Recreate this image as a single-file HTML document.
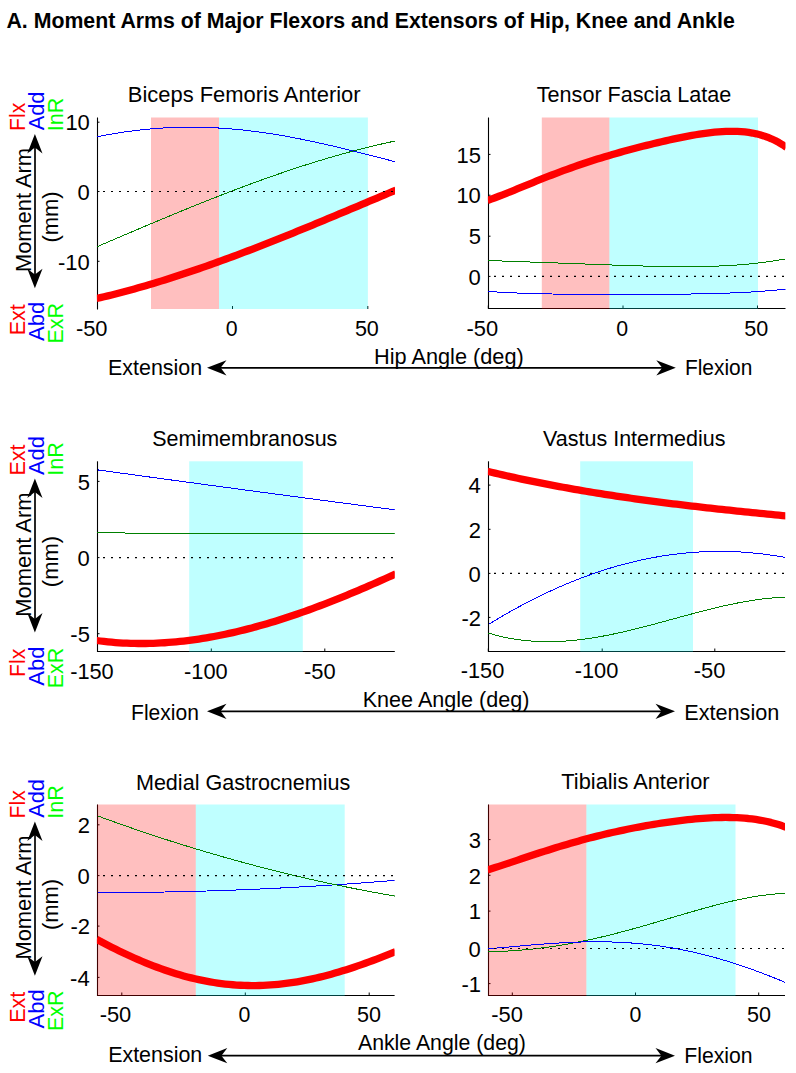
<!DOCTYPE html>
<html><head><meta charset="utf-8"><style>
html,body{margin:0;padding:0;background:#fff;}
body{width:796px;height:1073px;overflow:hidden;}
svg{display:block;}
text{font-family:"Liberation Sans", sans-serif;}
</style></head><body>
<svg width="796" height="1073" viewBox="0 0 796 1073">
<rect x="0" y="0" width="796" height="1073" fill="#fff"/>
<defs><clipPath id="cp1"><rect x="96.90" y="117.50" width="298.10" height="191.50"/></clipPath><clipPath id="cp2"><rect x="487.90" y="117.50" width="297.60" height="191.00"/></clipPath><clipPath id="cp3"><rect x="96.90" y="461.30" width="297.90" height="190.20"/></clipPath><clipPath id="cp4"><rect x="487.90" y="461.30" width="297.40" height="190.20"/></clipPath><clipPath id="cp5"><rect x="96.90" y="804.50" width="297.70" height="191.00"/></clipPath><clipPath id="cp6"><rect x="487.90" y="804.50" width="297.10" height="191.00"/></clipPath></defs>
<line x1="97.50" y1="117.50" x2="97.50" y2="309.50" stroke="#000" stroke-width="1.1"/>
<line x1="97.50" y1="122.20" x2="99.50" y2="122.20" stroke="#000" stroke-width="1"/>
<line x1="97.50" y1="191.50" x2="99.50" y2="191.50" stroke="#000" stroke-width="1"/>
<line x1="97.50" y1="261.30" x2="99.50" y2="261.30" stroke="#000" stroke-width="1"/>
<line x1="97.50" y1="309.00" x2="97.50" y2="306.00" stroke="#000" stroke-width="1"/>
<line x1="232.50" y1="309.00" x2="232.50" y2="306.00" stroke="#000" stroke-width="1"/>
<line x1="367.80" y1="309.00" x2="367.80" y2="306.00" stroke="#000" stroke-width="1"/>
<rect x="151.00" y="117.50" width="68.00" height="191.50" fill="#ff0000" fill-opacity="0.25"/>
<rect x="219.00" y="117.50" width="148.90" height="191.50" fill="#00ffff" fill-opacity="0.25"/>
<g clip-path="url(#cp1)" fill="none" stroke-linejoin="round">
<polyline points="97.50,136.71 101.27,135.96 105.03,135.24 108.80,134.55 112.56,133.89 116.33,133.26 120.09,132.66 123.86,132.09 127.63,131.56 131.39,131.05 135.16,130.57 138.92,130.13 142.69,129.72 146.46,129.33 150.22,128.98 153.99,128.67 157.75,128.38 161.52,128.12 165.28,127.90 169.05,127.70 172.82,127.54 176.58,127.41 180.35,127.31 184.11,127.24 187.88,127.20 191.65,127.19 195.41,127.22 199.18,127.27 202.94,127.35 206.71,127.47 210.47,127.61 214.24,127.78 218.01,127.98 221.77,128.21 225.54,128.47 229.30,128.76 233.07,129.08 236.84,129.42 240.60,129.79 244.37,130.19 248.13,130.61 251.90,131.06 255.66,131.54 259.43,132.04 263.20,132.57 266.96,133.12 270.73,133.69 274.49,134.29 278.26,134.91 282.03,135.55 285.79,136.22 289.56,136.90 293.32,137.61 297.09,138.33 300.85,139.08 304.62,139.84 308.39,140.62 312.15,141.42 315.92,142.23 319.68,143.06 323.45,143.90 327.22,144.76 330.98,145.63 334.75,146.52 338.51,147.42 342.28,148.32 346.04,149.24 349.81,150.17 353.58,151.10 357.34,152.04 361.11,152.99 364.87,153.95 368.64,154.91 372.41,155.87 376.17,156.84 379.94,157.80 383.70,158.77 387.47,159.74 391.23,160.71 395.00,161.67" stroke="#0000ff" stroke-width="1.0" shape-rendering="crispEdges"/>
<polyline points="97.50,246.53 101.27,244.91 105.03,243.30 108.80,241.68 112.56,240.07 116.33,238.45 120.09,236.84 123.86,235.23 127.63,233.63 131.39,232.02 135.16,230.42 138.92,228.82 142.69,227.22 146.46,225.63 150.22,224.04 153.99,222.46 157.75,220.88 161.52,219.30 165.28,217.73 169.05,216.17 172.82,214.61 176.58,213.05 180.35,211.50 184.11,209.96 187.88,208.42 191.65,206.89 195.41,205.37 199.18,203.85 202.94,202.35 206.71,200.84 210.47,199.35 214.24,197.87 218.01,196.39 221.77,194.92 225.54,193.46 229.30,192.01 233.07,190.57 236.84,189.14 240.60,187.71 244.37,186.30 248.13,184.90 251.90,183.51 255.66,182.13 259.43,180.76 263.20,179.41 266.96,178.06 270.73,176.73 274.49,175.40 278.26,174.10 282.03,172.80 285.79,171.52 289.56,170.25 293.32,168.99 297.09,167.74 300.85,166.52 304.62,165.30 308.39,164.10 312.15,162.91 315.92,161.74 319.68,160.59 323.45,159.45 327.22,158.32 330.98,157.21 334.75,156.12 338.51,155.04 342.28,153.98 346.04,152.94 349.81,151.92 353.58,150.91 357.34,149.92 361.11,148.95 364.87,147.99 368.64,147.06 372.41,146.14 376.17,145.25 379.94,144.37 383.70,143.51 387.47,142.67 391.23,141.85 395.00,141.05" stroke="#008000" stroke-width="1.0" shape-rendering="crispEdges"/>
<polyline points="96.50,298.55 100.29,297.67 104.08,296.77 107.87,295.85 111.66,294.92 115.46,293.96 119.25,292.99 123.04,291.99 126.83,290.98 130.62,289.96 134.41,288.91 138.20,287.85 141.99,286.77 145.78,285.67 149.58,284.56 153.37,283.43 157.16,282.28 160.95,281.12 164.74,279.95 168.53,278.75 172.32,277.55 176.11,276.33 179.91,275.09 183.70,273.84 187.49,272.58 191.28,271.31 195.07,270.02 198.86,268.72 202.65,267.40 206.44,266.07 210.23,264.74 214.03,263.39 217.82,262.02 221.61,260.65 225.40,259.27 229.19,257.87 232.98,256.47 236.77,255.05 240.56,253.62 244.35,252.19 248.15,250.75 251.94,249.29 255.73,247.83 259.52,246.36 263.31,244.88 267.10,243.39 270.89,241.90 274.68,240.40 278.47,238.89 282.27,237.37 286.06,235.85 289.85,234.32 293.64,232.79 297.43,231.24 301.22,229.70 305.01,228.15 308.80,226.59 312.59,225.03 316.39,223.46 320.18,221.89 323.97,220.32 327.76,218.74 331.55,217.16 335.34,215.58 339.13,213.99 342.92,212.40 346.72,210.81 350.51,209.22 354.30,207.63 358.09,206.03 361.88,204.43 365.67,202.83 369.46,201.24 373.25,199.64 377.04,198.04 380.84,196.44 384.63,194.84 388.42,193.24 392.21,191.65 396.00,190.05" stroke="#ff0000" stroke-width="7.3" stroke-linecap="butt"/>
</g>
<line x1="97.50" y1="191.50" x2="395.00" y2="191.50" stroke="#000" stroke-width="1.2" stroke-dasharray="2 6" stroke-dashoffset="-5.5"/>
<line x1="488.50" y1="117.50" x2="488.50" y2="309.00" stroke="#000" stroke-width="1.1"/>
<line x1="488.50" y1="308.50" x2="785.50" y2="308.50" stroke="#000" stroke-width="1.1"/>
<line x1="488.50" y1="154.40" x2="490.50" y2="154.40" stroke="#000" stroke-width="1"/>
<line x1="488.50" y1="195.20" x2="490.50" y2="195.20" stroke="#000" stroke-width="1"/>
<line x1="488.50" y1="236.20" x2="490.50" y2="236.20" stroke="#000" stroke-width="1"/>
<line x1="488.50" y1="276.40" x2="490.50" y2="276.40" stroke="#000" stroke-width="1"/>
<line x1="488.30" y1="308.50" x2="488.30" y2="305.50" stroke="#000" stroke-width="1"/>
<line x1="623.00" y1="308.50" x2="623.00" y2="305.50" stroke="#000" stroke-width="1"/>
<line x1="757.50" y1="308.50" x2="757.50" y2="305.50" stroke="#000" stroke-width="1"/>
<rect x="541.80" y="117.50" width="67.60" height="191.50" fill="#ff0000" fill-opacity="0.25"/>
<rect x="609.40" y="117.50" width="148.60" height="191.50" fill="#00ffff" fill-opacity="0.25"/>
<g clip-path="url(#cp2)" fill="none" stroke-linejoin="round">
<polyline points="488.50,260.51 492.26,260.65 496.02,260.79 499.78,260.92 503.54,261.06 507.30,261.19 511.06,261.33 514.82,261.46 518.58,261.59 522.34,261.72 526.09,261.86 529.85,261.99 533.61,262.12 537.37,262.26 541.13,262.39 544.89,262.53 548.65,262.66 552.41,262.80 556.17,262.94 559.93,263.08 563.69,263.22 567.45,263.36 571.21,263.50 574.97,263.64 578.73,263.78 582.49,263.92 586.25,264.06 590.01,264.20 593.77,264.35 597.53,264.49 601.28,264.63 605.04,264.76 608.80,264.90 612.56,265.04 616.32,265.17 620.08,265.30 623.84,265.43 627.60,265.55 631.36,265.67 635.12,265.79 638.88,265.90 642.64,266.01 646.40,266.11 650.16,266.20 653.92,266.29 657.68,266.37 661.44,266.44 665.20,266.51 668.96,266.56 672.72,266.60 676.47,266.64 680.23,266.66 683.99,266.67 687.75,266.66 691.51,266.64 695.27,266.61 699.03,266.56 702.79,266.50 706.55,266.42 710.31,266.31 714.07,266.19 717.83,266.05 721.59,265.89 725.35,265.71 729.11,265.50 732.87,265.27 736.63,265.02 740.39,264.74 744.15,264.43 747.91,264.09 751.66,263.72 755.42,263.32 759.18,262.89 762.94,262.42 766.70,261.92 770.46,261.39 774.22,260.82 777.98,260.21 781.74,259.56 785.50,258.86" stroke="#008000" stroke-width="1.0" shape-rendering="crispEdges"/>
<polyline points="488.50,291.43 492.26,291.69 496.02,291.94 499.78,292.16 503.54,292.37 507.30,292.57 511.06,292.75 514.82,292.92 518.58,293.07 522.34,293.22 526.09,293.35 529.85,293.47 533.61,293.58 537.37,293.68 541.13,293.77 544.89,293.85 548.65,293.93 552.41,294.00 556.17,294.06 559.93,294.11 563.69,294.16 567.45,294.20 571.21,294.24 574.97,294.28 578.73,294.31 582.49,294.33 586.25,294.36 590.01,294.38 593.77,294.39 597.53,294.41 601.28,294.42 605.04,294.42 608.80,294.43 612.56,294.44 616.32,294.44 620.08,294.44 623.84,294.44 627.60,294.43 631.36,294.43 635.12,294.42 638.88,294.41 642.64,294.40 646.40,294.39 650.16,294.37 653.92,294.35 657.68,294.33 661.44,294.31 665.20,294.28 668.96,294.25 672.72,294.22 676.47,294.18 680.23,294.14 683.99,294.10 687.75,294.05 691.51,293.99 695.27,293.93 699.03,293.86 702.79,293.79 706.55,293.71 710.31,293.62 714.07,293.52 717.83,293.41 721.59,293.30 725.35,293.17 729.11,293.04 732.87,292.89 736.63,292.73 740.39,292.56 744.15,292.37 747.91,292.17 751.66,291.95 755.42,291.72 759.18,291.47 762.94,291.20 766.70,290.92 770.46,290.61 774.22,290.28 777.98,289.93 781.74,289.56 785.50,289.17" stroke="#0000ff" stroke-width="1.0" shape-rendering="crispEdges"/>
<polyline points="487.50,200.45 491.28,199.11 495.07,197.71 498.85,196.28 502.64,194.81 506.42,193.31 510.21,191.79 513.99,190.26 517.78,188.71 521.56,187.16 525.35,185.61 529.13,184.06 532.92,182.52 536.70,180.98 540.49,179.46 544.27,177.95 548.06,176.46 551.84,174.99 555.63,173.54 559.41,172.11 563.20,170.70 566.98,169.32 570.77,167.96 574.55,166.62 578.34,165.31 582.12,164.02 585.91,162.76 589.69,161.52 593.47,160.30 597.26,159.10 601.04,157.93 604.83,156.78 608.61,155.65 612.40,154.54 616.18,153.45 619.97,152.38 623.75,151.32 627.54,150.29 631.32,149.27 635.11,148.27 638.89,147.28 642.68,146.31 646.46,145.36 650.25,144.42 654.03,143.50 657.82,142.59 661.60,141.70 665.39,140.84 669.17,139.99 672.96,139.16 676.74,138.35 680.53,137.57 684.31,136.82 688.09,136.10 691.88,135.41 695.66,134.75 699.45,134.14 703.23,133.57 707.02,133.05 710.80,132.59 714.59,132.18 718.37,131.84 722.16,131.58 725.94,131.39 729.73,131.29 733.51,131.29 737.30,131.39 741.08,131.61 744.87,131.95 748.65,132.42 752.44,133.04 756.22,133.82 760.01,134.76 763.79,135.89 767.58,137.22 771.36,138.77 775.15,140.54 778.93,142.55 782.72,144.83 786.50,147.38" stroke="#ff0000" stroke-width="7.3" stroke-linecap="butt"/>
</g>
<line x1="488.50" y1="276.40" x2="785.50" y2="276.40" stroke="#000" stroke-width="1.2" stroke-dasharray="2 6" stroke-dashoffset="-5.5"/>
<line x1="97.50" y1="461.30" x2="97.50" y2="652.00" stroke="#000" stroke-width="1.1"/>
<line x1="97.50" y1="651.50" x2="394.80" y2="651.50" stroke="#000" stroke-width="1.1"/>
<line x1="97.50" y1="481.40" x2="99.50" y2="481.40" stroke="#000" stroke-width="1"/>
<line x1="97.50" y1="557.60" x2="99.50" y2="557.60" stroke="#000" stroke-width="1"/>
<line x1="97.50" y1="633.70" x2="99.50" y2="633.70" stroke="#000" stroke-width="1"/>
<line x1="97.50" y1="651.50" x2="97.50" y2="648.50" stroke="#000" stroke-width="1"/>
<line x1="211.30" y1="651.50" x2="211.30" y2="648.50" stroke="#000" stroke-width="1"/>
<line x1="324.80" y1="651.50" x2="324.80" y2="648.50" stroke="#000" stroke-width="1"/>
<rect x="189.20" y="461.30" width="113.60" height="190.70" fill="#00ffff" fill-opacity="0.25"/>
<g clip-path="url(#cp3)" fill="none" stroke-linejoin="round">
<polyline points="97.50,469.87 101.26,470.39 105.03,470.91 108.79,471.43 112.55,471.94 116.32,472.46 120.08,472.98 123.84,473.50 127.61,474.01 131.37,474.53 135.13,475.04 138.90,475.56 142.66,476.08 146.42,476.59 150.19,477.10 153.95,477.62 157.71,478.13 161.48,478.65 165.24,479.16 169.00,479.67 172.77,480.18 176.53,480.70 180.29,481.21 184.06,481.72 187.82,482.23 191.58,482.74 195.35,483.25 199.11,483.76 202.87,484.27 206.64,484.78 210.40,485.29 214.16,485.80 217.93,486.31 221.69,486.82 225.45,487.32 229.22,487.83 232.98,488.34 236.74,488.84 240.51,489.35 244.27,489.86 248.03,490.36 251.79,490.87 255.56,491.37 259.32,491.88 263.08,492.38 266.85,492.89 270.61,493.39 274.37,493.89 278.14,494.40 281.90,494.90 285.66,495.40 289.43,495.90 293.19,496.40 296.95,496.90 300.72,497.41 304.48,497.91 308.24,498.41 312.01,498.91 315.77,499.41 319.53,499.90 323.30,500.40 327.06,500.90 330.82,501.40 334.59,501.90 338.35,502.40 342.11,502.89 345.88,503.39 349.64,503.89 353.40,504.38 357.17,504.88 360.93,505.37 364.69,505.87 368.46,506.36 372.22,506.86 375.98,507.35 379.75,507.84 383.51,508.34 387.27,508.83 391.04,509.32 394.80,509.82" stroke="#0000ff" stroke-width="1.0" shape-rendering="crispEdges"/>
<polyline points="97.00,532.50 124.50,532.50 126.00,533.50 395.00,533.50" stroke="#008000" stroke-width="1.0" shape-rendering="crispEdges"/>
<polyline points="96.50,640.50 100.29,641.00 104.08,641.45 107.87,641.85 111.65,642.21 115.44,642.53 119.23,642.80 123.02,643.02 126.81,643.20 130.60,643.34 134.39,643.44 138.17,643.50 141.96,643.51 145.75,643.48 149.54,643.41 153.33,643.31 157.12,643.16 160.91,642.97 164.69,642.75 168.48,642.48 172.27,642.18 176.06,641.84 179.85,641.46 183.64,641.05 187.43,640.60 191.22,640.12 195.00,639.60 198.79,639.04 202.58,638.46 206.37,637.83 210.16,637.18 213.95,636.49 217.74,635.77 221.52,635.02 225.31,634.23 229.10,633.42 232.89,632.57 236.68,631.70 240.47,630.79 244.26,629.86 248.04,628.90 251.83,627.91 255.62,626.89 259.41,625.84 263.20,624.77 266.99,623.67 270.78,622.54 274.56,621.39 278.35,620.21 282.14,619.01 285.93,617.79 289.72,616.54 293.51,615.27 297.30,613.97 301.08,612.66 304.87,611.32 308.66,609.96 312.45,608.58 316.24,607.17 320.03,605.75 323.82,604.31 327.61,602.85 331.39,601.37 335.18,599.88 338.97,598.36 342.76,596.83 346.55,595.28 350.34,593.71 354.13,592.13 357.91,590.54 361.70,588.92 365.49,587.30 369.28,585.66 373.07,584.00 376.86,582.34 380.65,580.66 384.43,578.97 388.22,577.26 392.01,575.55 395.80,573.82" stroke="#ff0000" stroke-width="7.3" stroke-linecap="butt"/>
</g>
<line x1="97.50" y1="557.60" x2="394.80" y2="557.60" stroke="#000" stroke-width="1.2" stroke-dasharray="2 6" stroke-dashoffset="-5.5"/>
<line x1="488.50" y1="461.30" x2="488.50" y2="652.00" stroke="#000" stroke-width="1.1"/>
<line x1="488.50" y1="651.50" x2="785.30" y2="651.50" stroke="#000" stroke-width="1.1"/>
<line x1="488.50" y1="485.10" x2="490.50" y2="485.10" stroke="#000" stroke-width="1"/>
<line x1="488.50" y1="529.30" x2="490.50" y2="529.30" stroke="#000" stroke-width="1"/>
<line x1="488.50" y1="573.40" x2="490.50" y2="573.40" stroke="#000" stroke-width="1"/>
<line x1="488.50" y1="617.40" x2="490.50" y2="617.40" stroke="#000" stroke-width="1"/>
<line x1="488.30" y1="651.50" x2="488.30" y2="648.50" stroke="#000" stroke-width="1"/>
<line x1="602.20" y1="651.50" x2="602.20" y2="648.50" stroke="#000" stroke-width="1"/>
<line x1="714.80" y1="651.50" x2="714.80" y2="648.50" stroke="#000" stroke-width="1"/>
<rect x="580.20" y="461.30" width="112.80" height="190.70" fill="#00ffff" fill-opacity="0.25"/>
<g clip-path="url(#cp4)" fill="none" stroke-linejoin="round">
<polyline points="488.50,624.47 492.26,622.17 496.01,619.90 499.77,617.67 503.53,615.47 507.28,613.31 511.04,611.18 514.80,609.09 518.56,607.03 522.31,605.01 526.07,603.03 529.83,601.08 533.58,599.16 537.34,597.28 541.10,595.44 544.85,593.63 548.61,591.86 552.37,590.13 556.13,588.43 559.88,586.77 563.64,585.15 567.40,583.56 571.15,582.01 574.91,580.50 578.67,579.03 582.42,577.59 586.18,576.19 589.94,574.82 593.69,573.50 597.45,572.21 601.21,570.96 604.97,569.75 608.72,568.57 612.48,567.44 616.24,566.34 619.99,565.28 623.75,564.26 627.51,563.28 631.26,562.33 635.02,561.43 638.78,560.56 642.54,559.73 646.29,558.94 650.05,558.19 653.81,557.48 657.56,556.81 661.32,556.17 665.08,555.58 668.83,555.02 672.59,554.51 676.35,554.03 680.11,553.59 683.86,553.19 687.62,552.83 691.38,552.51 695.13,552.24 698.89,552.00 702.65,551.80 706.40,551.63 710.16,551.51 713.92,551.43 717.67,551.39 721.43,551.39 725.19,551.43 728.95,551.51 732.70,551.62 736.46,551.78 740.22,551.98 743.97,552.22 747.73,552.50 751.49,552.82 755.24,553.17 759.00,553.57 762.76,554.01 766.52,554.49 770.27,555.01 774.03,555.57 777.79,556.16 781.54,556.80 785.30,557.48" stroke="#0000ff" stroke-width="1.0" shape-rendering="crispEdges"/>
<polyline points="488.50,633.09 492.26,634.20 496.01,635.23 499.77,636.17 503.53,637.04 507.28,637.82 511.04,638.53 514.80,639.16 518.56,639.71 522.31,640.20 526.07,640.61 529.83,640.95 533.58,641.23 537.34,641.43 541.10,641.58 544.85,641.66 548.61,641.68 552.37,641.64 556.13,641.54 559.88,641.38 563.64,641.17 567.40,640.91 571.15,640.59 574.91,640.23 578.67,639.82 582.42,639.36 586.18,638.85 589.94,638.31 593.69,637.72 597.45,637.10 601.21,636.43 604.97,635.73 608.72,635.00 612.48,634.24 616.24,633.44 619.99,632.62 623.75,631.77 627.51,630.89 631.26,629.99 635.02,629.07 638.78,628.13 642.54,627.18 646.29,626.20 650.05,625.22 653.81,624.22 657.56,623.21 661.32,622.20 665.08,621.18 668.83,620.15 672.59,619.12 676.35,618.10 680.11,617.07 683.86,616.05 687.62,615.03 691.38,614.02 695.13,613.02 698.89,612.03 702.65,611.05 706.40,610.10 710.16,609.15 713.92,608.23 717.67,607.33 721.43,606.45 725.19,605.60 728.95,604.78 732.70,603.98 736.46,603.22 740.22,602.49 743.97,601.80 747.73,601.15 751.49,600.54 755.24,599.97 759.00,599.44 762.76,598.96 766.52,598.53 770.27,598.15 774.03,597.82 777.79,597.55 781.54,597.34 785.30,597.19" stroke="#008000" stroke-width="1.0" shape-rendering="crispEdges"/>
<polyline points="487.50,471.33 491.28,472.23 495.06,473.13 498.85,474.01 502.63,474.88 506.41,475.74 510.19,476.59 513.98,477.42 517.76,478.25 521.54,479.06 525.32,479.86 529.11,480.65 532.89,481.43 536.67,482.19 540.45,482.95 544.23,483.70 548.02,484.43 551.80,485.16 555.58,485.87 559.36,486.58 563.15,487.27 566.93,487.96 570.71,488.63 574.49,489.30 578.27,489.95 582.06,490.60 585.84,491.24 589.62,491.87 593.40,492.49 597.19,493.10 600.97,493.71 604.75,494.30 608.53,494.89 612.32,495.47 616.10,496.04 619.88,496.60 623.66,497.16 627.44,497.71 631.23,498.25 635.01,498.78 638.79,499.31 642.57,499.83 646.36,500.34 650.14,500.85 653.92,501.35 657.70,501.85 661.48,502.33 665.27,502.82 669.05,503.29 672.83,503.76 676.61,504.23 680.40,504.69 684.18,505.14 687.96,505.59 691.74,506.03 695.53,506.47 699.31,506.91 703.09,507.34 706.87,507.77 710.65,508.19 714.44,508.60 718.22,509.02 722.00,509.43 725.78,509.83 729.57,510.24 733.35,510.64 737.13,511.03 740.91,511.42 744.69,511.81 748.48,512.20 752.26,512.59 756.04,512.97 759.82,513.35 763.61,513.72 767.39,514.10 771.17,514.47 774.95,514.85 778.74,515.22 782.52,515.58 786.30,515.95" stroke="#ff0000" stroke-width="7.3" stroke-linecap="butt"/>
</g>
<line x1="488.50" y1="573.40" x2="785.30" y2="573.40" stroke="#000" stroke-width="1.2" stroke-dasharray="2 6" stroke-dashoffset="-5.5"/>
<line x1="97.50" y1="804.50" x2="97.50" y2="996.00" stroke="#000" stroke-width="1.1"/>
<line x1="97.50" y1="995.50" x2="394.60" y2="995.50" stroke="#000" stroke-width="1.1"/>
<line x1="97.50" y1="824.80" x2="99.50" y2="824.80" stroke="#000" stroke-width="1"/>
<line x1="97.50" y1="875.60" x2="99.50" y2="875.60" stroke="#000" stroke-width="1"/>
<line x1="97.50" y1="926.10" x2="99.50" y2="926.10" stroke="#000" stroke-width="1"/>
<line x1="97.50" y1="977.40" x2="99.50" y2="977.40" stroke="#000" stroke-width="1"/>
<line x1="121.80" y1="995.50" x2="121.80" y2="992.50" stroke="#000" stroke-width="1"/>
<line x1="245.30" y1="995.50" x2="245.30" y2="992.50" stroke="#000" stroke-width="1"/>
<line x1="369.20" y1="995.50" x2="369.20" y2="992.50" stroke="#000" stroke-width="1"/>
<rect x="97.00" y="804.50" width="98.80" height="191.50" fill="#ff0000" fill-opacity="0.25"/>
<rect x="195.80" y="804.50" width="148.90" height="191.50" fill="#00ffff" fill-opacity="0.25"/>
<g clip-path="url(#cp5)" fill="none" stroke-linejoin="round">
<polyline points="97.50,892.60 101.26,892.60 105.02,892.59 108.78,892.59 112.54,892.58 116.30,892.56 120.06,892.54 123.83,892.52 127.59,892.49 131.35,892.46 135.11,892.43 138.87,892.39 142.63,892.35 146.39,892.30 150.15,892.25 153.91,892.19 157.67,892.13 161.43,892.07 165.19,892.00 168.95,891.93 172.72,891.86 176.48,891.78 180.24,891.70 184.00,891.61 187.76,891.52 191.52,891.42 195.28,891.32 199.04,891.22 202.80,891.11 206.56,891.00 210.32,890.89 214.08,890.77 217.84,890.65 221.61,890.52 225.37,890.39 229.13,890.25 232.89,890.12 236.65,889.97 240.41,889.83 244.17,889.67 247.93,889.52 251.69,889.36 255.45,889.20 259.21,889.03 262.97,888.86 266.73,888.68 270.49,888.51 274.26,888.32 278.02,888.14 281.78,887.95 285.54,887.75 289.30,887.55 293.06,887.35 296.82,887.14 300.58,886.93 304.34,886.72 308.10,886.50 311.86,886.27 315.62,886.05 319.38,885.82 323.15,885.58 326.91,885.34 330.67,885.10 334.43,884.85 338.19,884.60 341.95,884.35 345.71,884.09 349.47,883.82 353.23,883.56 356.99,883.29 360.75,883.01 364.51,882.73 368.27,882.45 372.04,882.16 375.80,881.87 379.56,881.58 383.32,881.28 387.08,880.98 390.84,880.67 394.60,880.36" stroke="#0000ff" stroke-width="1.0" shape-rendering="crispEdges"/>
<polyline points="97.50,815.86 101.26,817.24 105.02,818.61 108.78,819.97 112.54,821.32 116.30,822.66 120.06,824.00 123.83,825.32 127.59,826.64 131.35,827.94 135.11,829.24 138.87,830.52 142.63,831.80 146.39,833.07 150.15,834.33 153.91,835.58 157.67,836.82 161.43,838.05 165.19,839.27 168.95,840.48 172.72,841.68 176.48,842.87 180.24,844.06 184.00,845.23 187.76,846.39 191.52,847.55 195.28,848.70 199.04,849.83 202.80,850.96 206.56,852.08 210.32,853.18 214.08,854.28 217.84,855.37 221.61,856.45 225.37,857.52 229.13,858.59 232.89,859.64 236.65,860.68 240.41,861.71 244.17,862.74 247.93,863.75 251.69,864.76 255.45,865.75 259.21,866.74 262.97,867.72 266.73,868.69 270.49,869.64 274.26,870.59 278.02,871.53 281.78,872.46 285.54,873.38 289.30,874.30 293.06,875.20 296.82,876.09 300.58,876.97 304.34,877.85 308.10,878.71 311.86,879.57 315.62,880.42 319.38,881.25 323.15,882.08 326.91,882.90 330.67,883.71 334.43,884.50 338.19,885.29 341.95,886.07 345.71,886.85 349.47,887.61 353.23,888.36 356.99,889.10 360.75,889.84 364.51,890.56 368.27,891.28 372.04,891.98 375.80,892.68 379.56,893.36 383.32,894.04 387.08,894.71 390.84,895.37 394.60,896.02" stroke="#008000" stroke-width="1.0" shape-rendering="crispEdges"/>
<polyline points="96.50,939.26 100.29,941.28 104.07,943.28 107.86,945.24 111.64,947.17 115.43,949.06 119.22,950.92 123.00,952.75 126.79,954.53 130.57,956.28 134.36,957.98 138.15,959.64 141.93,961.26 145.72,962.83 149.51,964.36 153.29,965.84 157.08,967.27 160.86,968.66 164.65,969.99 168.44,971.28 172.22,972.51 176.01,973.69 179.79,974.81 183.58,975.89 187.37,976.91 191.15,977.87 194.94,978.78 198.72,979.63 202.51,980.43 206.30,981.17 210.08,981.85 213.87,982.48 217.65,983.05 221.44,983.56 225.23,984.01 229.01,984.40 232.80,984.74 236.58,985.02 240.37,985.24 244.16,985.40 247.94,985.51 251.73,985.56 255.52,985.55 259.30,985.48 263.09,985.36 266.87,985.18 270.66,984.95 274.45,984.66 278.23,984.31 282.02,983.92 285.80,983.46 289.59,982.96 293.38,982.40 297.16,981.79 300.95,981.14 304.73,980.43 308.52,979.67 312.31,978.87 316.09,978.01 319.88,977.12 323.66,976.18 327.45,975.19 331.24,974.17 335.02,973.10 338.81,971.99 342.59,970.85 346.38,969.67 350.17,968.45 353.95,967.20 357.74,965.91 361.53,964.60 365.31,963.26 369.10,961.89 372.88,960.49 376.67,959.08 380.46,957.63 384.24,956.17 388.03,954.70 391.81,953.20 395.60,951.69" stroke="#ff0000" stroke-width="7.3" stroke-linecap="butt"/>
</g>
<line x1="97.50" y1="875.60" x2="394.60" y2="875.60" stroke="#000" stroke-width="1.2" stroke-dasharray="2 6" stroke-dashoffset="-5.5"/>
<line x1="488.50" y1="804.50" x2="488.50" y2="996.00" stroke="#000" stroke-width="1.1"/>
<line x1="488.50" y1="995.50" x2="785.00" y2="995.50" stroke="#000" stroke-width="1.1"/>
<line x1="488.50" y1="839.60" x2="490.50" y2="839.60" stroke="#000" stroke-width="1"/>
<line x1="488.50" y1="875.30" x2="490.50" y2="875.30" stroke="#000" stroke-width="1"/>
<line x1="488.50" y1="911.10" x2="490.50" y2="911.10" stroke="#000" stroke-width="1"/>
<line x1="488.50" y1="948.50" x2="490.50" y2="948.50" stroke="#000" stroke-width="1"/>
<line x1="488.50" y1="983.60" x2="490.50" y2="983.60" stroke="#000" stroke-width="1"/>
<line x1="512.30" y1="995.50" x2="512.30" y2="992.50" stroke="#000" stroke-width="1"/>
<line x1="635.50" y1="995.50" x2="635.50" y2="992.50" stroke="#000" stroke-width="1"/>
<line x1="758.70" y1="995.50" x2="758.70" y2="992.50" stroke="#000" stroke-width="1"/>
<rect x="488.00" y="804.50" width="98.40" height="191.50" fill="#ff0000" fill-opacity="0.25"/>
<rect x="586.40" y="804.50" width="149.10" height="191.50" fill="#00ffff" fill-opacity="0.25"/>
<g clip-path="url(#cp6)" fill="none" stroke-linejoin="round">
<polyline points="488.50,951.72 492.25,951.64 496.01,951.53 499.76,951.40 503.51,951.24 507.27,951.05 511.02,950.83 514.77,950.58 518.53,950.31 522.28,950.00 526.03,949.67 529.78,949.31 533.54,948.92 537.29,948.50 541.04,948.05 544.80,947.57 548.55,947.06 552.30,946.53 556.06,945.96 559.81,945.37 563.56,944.75 567.32,944.10 571.07,943.43 574.82,942.73 578.58,942.00 582.33,941.24 586.08,940.46 589.84,939.66 593.59,938.83 597.34,937.98 601.09,937.10 604.85,936.21 608.60,935.29 612.35,934.35 616.11,933.39 619.86,932.42 623.61,931.42 627.37,930.41 631.12,929.39 634.87,928.35 638.63,927.30 642.38,926.23 646.13,925.16 649.89,924.07 653.64,922.98 657.39,921.88 661.15,920.78 664.90,919.67 668.65,918.56 672.41,917.45 676.16,916.34 679.91,915.23 683.66,914.13 687.42,913.04 691.17,911.95 694.92,910.87 698.68,909.80 702.43,908.74 706.18,907.71 709.94,906.68 713.69,905.68 717.44,904.70 721.20,903.74 724.95,902.81 728.70,901.91 732.46,901.03 736.21,900.19 739.96,899.38 743.72,898.61 747.47,897.88 751.22,897.20 754.97,896.55 758.73,895.96 762.48,895.41 766.23,894.92 769.99,894.48 773.74,894.10 777.49,893.77 781.25,893.52 785.00,893.33" stroke="#008000" stroke-width="1.0" shape-rendering="crispEdges"/>
<polyline points="488.50,948.73 492.25,948.42 496.01,948.11 499.76,947.79 503.51,947.46 507.27,947.13 511.02,946.79 514.77,946.46 518.53,946.12 522.28,945.79 526.03,945.47 529.78,945.14 533.54,944.83 537.29,944.52 541.04,944.23 544.80,943.94 548.55,943.67 552.30,943.41 556.06,943.17 559.81,942.94 563.56,942.73 567.32,942.53 571.07,942.36 574.82,942.21 578.58,942.08 582.33,941.97 586.08,941.88 589.84,941.82 593.59,941.78 597.34,941.77 601.09,941.79 604.85,941.83 608.60,941.91 612.35,942.01 616.11,942.14 619.86,942.30 623.61,942.49 627.37,942.72 631.12,942.97 634.87,943.26 638.63,943.58 642.38,943.93 646.13,944.32 649.89,944.74 653.64,945.20 657.39,945.69 661.15,946.21 664.90,946.77 668.65,947.36 672.41,947.99 676.16,948.66 679.91,949.36 683.66,950.09 687.42,950.86 691.17,951.67 694.92,952.51 698.68,953.38 702.43,954.29 706.18,955.24 709.94,956.22 713.69,957.23 717.44,958.27 721.20,959.35 724.95,960.47 728.70,961.61 732.46,962.79 736.21,964.00 739.96,965.24 743.72,966.51 747.47,967.81 751.22,969.14 754.97,970.50 758.73,971.88 762.48,973.30 766.23,974.74 769.99,976.20 773.74,977.69 777.49,979.20 781.25,980.74 785.00,982.30" stroke="#0000ff" stroke-width="1.0" shape-rendering="crispEdges"/>
<polyline points="487.50,869.96 491.28,868.78 495.06,867.58 498.84,866.36 502.61,865.12 506.39,863.87 510.17,862.62 513.95,861.35 517.73,860.09 521.51,858.82 525.28,857.56 529.06,856.30 532.84,855.05 536.62,853.81 540.40,852.58 544.18,851.36 547.96,850.15 551.73,848.96 555.51,847.79 559.29,846.63 563.07,845.50 566.85,844.38 570.63,843.28 574.41,842.20 578.18,841.14 581.96,840.10 585.74,839.08 589.52,838.08 593.30,837.11 597.08,836.15 600.85,835.22 604.63,834.31 608.41,833.42 612.19,832.55 615.97,831.70 619.75,830.88 623.53,830.07 627.30,829.29 631.08,828.52 634.86,827.78 638.64,827.06 642.42,826.36 646.20,825.68 649.97,825.02 653.75,824.39 657.53,823.77 661.31,823.18 665.09,822.61 668.87,822.06 672.65,821.54 676.42,821.04 680.20,820.57 683.98,820.12 687.76,819.71 691.54,819.32 695.32,818.96 699.09,818.64 702.87,818.35 706.65,818.09 710.43,817.88 714.21,817.71 717.99,817.58 721.77,817.49 725.54,817.46 729.32,817.48 733.10,817.56 736.88,817.70 740.66,817.90 744.44,818.17 748.22,818.51 751.99,818.94 755.77,819.44 759.55,820.04 763.33,820.73 767.11,821.52 770.89,822.42 774.66,823.43 778.44,824.57 782.22,825.83 786.00,827.23" stroke="#ff0000" stroke-width="7.3" stroke-linecap="butt"/>
</g>
<line x1="488.50" y1="948.50" x2="785.00" y2="948.50" stroke="#000" stroke-width="1.2" stroke-dasharray="2 6" stroke-dashoffset="-5.5"/>
<g font-family='"Liberation Sans", sans-serif'>
<text x="6.47" y="28.20" font-size="22.4" fill="#000" font-weight="bold" textLength="728.26" lengthAdjust="spacingAndGlyphs">A. Moment Arms of Major Flexors and Extensors of Hip, Knee and Ankle</text>
<text x="127.81" y="102.20" font-size="22.6" fill="#000" textLength="232.75" lengthAdjust="spacingAndGlyphs">Biceps Femoris Anterior</text>
<text x="536.82" y="102.10" font-size="22.6" fill="#000" textLength="194.43" lengthAdjust="spacingAndGlyphs">Tensor Fascia Latae</text>
<text x="152.22" y="445.60" font-size="22.6" fill="#000" textLength="185.15" lengthAdjust="spacingAndGlyphs">Semimembranosus</text>
<text x="543.11" y="445.60" font-size="22.6" fill="#000" textLength="182.36" lengthAdjust="spacingAndGlyphs">Vastus Intermedius</text>
<text x="135.93" y="789.60" font-size="22.6" fill="#000" textLength="214.45" lengthAdjust="spacingAndGlyphs">Medial Gastrocnemius</text>
<text x="561.32" y="789.40" font-size="22.6" fill="#000" textLength="148.24" lengthAdjust="spacingAndGlyphs">Tibialis Anterior</text>
<text x="65.39" y="130.40" font-size="22" fill="#000">10</text>
<text x="77.62" y="199.70" font-size="22" fill="#000">0</text>
<text x="58.06" y="269.50" font-size="22" fill="#000">-10</text>
<text x="456.45" y="162.60" font-size="22" fill="#000">15</text>
<text x="456.39" y="203.40" font-size="22" fill="#000">10</text>
<text x="468.69" y="244.40" font-size="22" fill="#000">5</text>
<text x="468.62" y="284.60" font-size="22" fill="#000">0</text>
<text x="77.69" y="489.60" font-size="22" fill="#000">5</text>
<text x="77.62" y="565.80" font-size="22" fill="#000">0</text>
<text x="70.36" y="641.90" font-size="22" fill="#000">-5</text>
<text x="468.41" y="493.30" font-size="22" fill="#000">4</text>
<text x="468.87" y="537.50" font-size="22" fill="#000">2</text>
<text x="468.62" y="581.60" font-size="22" fill="#000">0</text>
<text x="461.54" y="625.60" font-size="22" fill="#000">-2</text>
<text x="77.87" y="833.00" font-size="22" fill="#000">2</text>
<text x="77.62" y="883.80" font-size="22" fill="#000">0</text>
<text x="70.54" y="934.30" font-size="22" fill="#000">-2</text>
<text x="70.08" y="985.60" font-size="22" fill="#000">-4</text>
<text x="468.73" y="847.80" font-size="22" fill="#000">3</text>
<text x="468.87" y="883.50" font-size="22" fill="#000">2</text>
<text x="468.84" y="919.30" font-size="22" fill="#000">1</text>
<text x="468.62" y="956.70" font-size="22" fill="#000">0</text>
<text x="461.51" y="991.80" font-size="22" fill="#000">-1</text>
<text x="75.88" y="335.70" font-size="22" fill="#000" textLength="31.63" lengthAdjust="spacingAndGlyphs">-50</text>
<text x="225.67" y="335.70" font-size="22" fill="#000" textLength="11.87" lengthAdjust="spacingAndGlyphs">0</text>
<text x="354.89" y="335.70" font-size="22" fill="#000" textLength="24.01" lengthAdjust="spacingAndGlyphs">50</text>
<text x="466.58" y="335.50" font-size="22" fill="#000" textLength="31.63" lengthAdjust="spacingAndGlyphs">-50</text>
<text x="616.37" y="335.50" font-size="22" fill="#000" textLength="11.87" lengthAdjust="spacingAndGlyphs">0</text>
<text x="744.29" y="335.50" font-size="22" fill="#000" textLength="24.01" lengthAdjust="spacingAndGlyphs">50</text>
<text x="70.13" y="678.60" font-size="22" fill="#000" textLength="43.62" lengthAdjust="spacingAndGlyphs">-150</text>
<text x="184.03" y="678.60" font-size="22" fill="#000" textLength="43.72" lengthAdjust="spacingAndGlyphs">-100</text>
<text x="304.08" y="678.60" font-size="22" fill="#000" textLength="31.63" lengthAdjust="spacingAndGlyphs">-50</text>
<text x="460.68" y="678.40" font-size="22" fill="#000" textLength="43.62" lengthAdjust="spacingAndGlyphs">-150</text>
<text x="574.68" y="678.40" font-size="22" fill="#000" textLength="43.72" lengthAdjust="spacingAndGlyphs">-100</text>
<text x="693.83" y="678.40" font-size="22" fill="#000" textLength="31.63" lengthAdjust="spacingAndGlyphs">-50</text>
<text x="99.63" y="1022.20" font-size="22" fill="#000" textLength="31.63" lengthAdjust="spacingAndGlyphs">-50</text>
<text x="238.57" y="1022.20" font-size="22" fill="#000" textLength="11.87" lengthAdjust="spacingAndGlyphs">0</text>
<text x="357.04" y="1022.20" font-size="22" fill="#000" textLength="24.01" lengthAdjust="spacingAndGlyphs">50</text>
<text x="491.33" y="1022.30" font-size="22" fill="#000" textLength="31.63" lengthAdjust="spacingAndGlyphs">-50</text>
<text x="629.52" y="1022.30" font-size="22" fill="#000" textLength="11.87" lengthAdjust="spacingAndGlyphs">0</text>
<text x="746.94" y="1022.30" font-size="22" fill="#000" textLength="24.01" lengthAdjust="spacingAndGlyphs">50</text>
<text x="374.03" y="364.30" font-size="22.4" fill="#000" textLength="149.70" lengthAdjust="spacingAndGlyphs">Hip Angle (deg)</text>
<text x="362.74" y="706.50" font-size="22.4" fill="#000" textLength="166.68" lengthAdjust="spacingAndGlyphs">Knee Angle (deg)</text>
<text x="357.96" y="1049.80" font-size="22.4" fill="#000" textLength="167.95" lengthAdjust="spacingAndGlyphs">Ankle Angle (deg)</text>
<text x="108.04" y="375.40" font-size="22.4" fill="#000" textLength="94.15" lengthAdjust="spacingAndGlyphs">Extension</text>
<text x="684.88" y="375.20" font-size="22.4" fill="#000" textLength="67.48" lengthAdjust="spacingAndGlyphs">Flexion</text>
<text x="131.07" y="719.90" font-size="22.4" fill="#000" textLength="67.79" lengthAdjust="spacingAndGlyphs">Flexion</text>
<text x="684.22" y="719.60" font-size="22.4" fill="#000" textLength="95.08" lengthAdjust="spacingAndGlyphs">Extension</text>
<text x="108.14" y="1061.90" font-size="22.4" fill="#000" textLength="94.15" lengthAdjust="spacingAndGlyphs">Extension</text>
<text x="684.26" y="1062.60" font-size="22.4" fill="#000" textLength="68.31" lengthAdjust="spacingAndGlyphs">Flexion</text>
<text x="0" y="0" font-size="22.4" fill="#ff0000" textLength="28.27" lengthAdjust="spacingAndGlyphs" transform="translate(24.60 130.94) rotate(-90)">Flx</text>
<text x="0" y="0" font-size="22.4" fill="#0000ff" textLength="38.85" lengthAdjust="spacingAndGlyphs" transform="translate(43.70 130.34) rotate(-90)">Add</text>
<text x="0" y="0" font-size="22.4" fill="#00ff00" textLength="33.59" lengthAdjust="spacingAndGlyphs" transform="translate(63.10 131.19) rotate(-90)">InR</text>
<text x="0" y="0" font-size="22.4" fill="#ff0000" textLength="31.12" lengthAdjust="spacingAndGlyphs" transform="translate(24.60 335.27) rotate(-90)">Ext</text>
<text x="0" y="0" font-size="22.4" fill="#0000ff" textLength="39.16" lengthAdjust="spacingAndGlyphs" transform="translate(43.70 341.04) rotate(-90)">Abd</text>
<text x="0" y="0" font-size="22.4" fill="#00ff00" textLength="40.45" lengthAdjust="spacingAndGlyphs" transform="translate(63.10 343.56) rotate(-90)">ExR</text>
<text x="0" y="0" font-size="22.4" fill="#000" textLength="124.11" lengthAdjust="spacingAndGlyphs" transform="translate(31.30 272.08) rotate(-90)">Moment Arm</text>
<text x="0" y="0" font-size="22.4" fill="#000" textLength="51.22" lengthAdjust="spacingAndGlyphs" transform="translate(57.70 242.56) rotate(-90)">(mm)</text>
<text x="0" y="0" font-size="22.4" fill="#ff0000" textLength="31.12" lengthAdjust="spacingAndGlyphs" transform="translate(24.60 475.57) rotate(-90)">Ext</text>
<text x="0" y="0" font-size="22.4" fill="#0000ff" textLength="38.85" lengthAdjust="spacingAndGlyphs" transform="translate(43.70 474.94) rotate(-90)">Add</text>
<text x="0" y="0" font-size="22.4" fill="#00ff00" textLength="33.59" lengthAdjust="spacingAndGlyphs" transform="translate(63.10 475.79) rotate(-90)">InR</text>
<text x="0" y="0" font-size="22.4" fill="#ff0000" textLength="28.27" lengthAdjust="spacingAndGlyphs" transform="translate(24.60 676.94) rotate(-90)">Flx</text>
<text x="0" y="0" font-size="22.4" fill="#0000ff" textLength="39.16" lengthAdjust="spacingAndGlyphs" transform="translate(43.70 685.64) rotate(-90)">Abd</text>
<text x="0" y="0" font-size="22.4" fill="#00ff00" textLength="40.45" lengthAdjust="spacingAndGlyphs" transform="translate(63.10 688.16) rotate(-90)">ExR</text>
<text x="0" y="0" font-size="22.4" fill="#000" textLength="124.11" lengthAdjust="spacingAndGlyphs" transform="translate(31.30 616.68) rotate(-90)">Moment Arm</text>
<text x="0" y="0" font-size="22.4" fill="#000" textLength="51.22" lengthAdjust="spacingAndGlyphs" transform="translate(57.70 587.16) rotate(-90)">(mm)</text>
<text x="0" y="0" font-size="22.4" fill="#ff0000" textLength="28.27" lengthAdjust="spacingAndGlyphs" transform="translate(24.60 818.44) rotate(-90)">Flx</text>
<text x="0" y="0" font-size="22.4" fill="#0000ff" textLength="38.85" lengthAdjust="spacingAndGlyphs" transform="translate(43.70 817.84) rotate(-90)">Add</text>
<text x="0" y="0" font-size="22.4" fill="#00ff00" textLength="33.59" lengthAdjust="spacingAndGlyphs" transform="translate(63.10 818.69) rotate(-90)">InR</text>
<text x="0" y="0" font-size="22.4" fill="#ff0000" textLength="31.12" lengthAdjust="spacingAndGlyphs" transform="translate(24.60 1022.77) rotate(-90)">Ext</text>
<text x="0" y="0" font-size="22.4" fill="#0000ff" textLength="39.16" lengthAdjust="spacingAndGlyphs" transform="translate(43.70 1028.54) rotate(-90)">Abd</text>
<text x="0" y="0" font-size="22.4" fill="#00ff00" textLength="40.45" lengthAdjust="spacingAndGlyphs" transform="translate(63.10 1031.06) rotate(-90)">ExR</text>
<text x="0" y="0" font-size="22.4" fill="#000" textLength="124.11" lengthAdjust="spacingAndGlyphs" transform="translate(31.30 959.58) rotate(-90)">Moment Arm</text>
<text x="0" y="0" font-size="22.4" fill="#000" textLength="51.22" lengthAdjust="spacingAndGlyphs" transform="translate(57.70 930.06) rotate(-90)">(mm)</text>
</g>
<line x1="35" y1="144.00" x2="35" y2="278.20" stroke="#000" stroke-width="1.7"/>
<path d="M34.90 134.00 L42.50 153.50 L34.90 147.60 L27.30 153.50 Z" fill="#000"/>
<path d="M34.90 288.20 L27.30 268.70 L34.90 274.60 L42.50 268.70 Z" fill="#000"/>
<line x1="35" y1="488.40" x2="35" y2="622.60" stroke="#000" stroke-width="1.7"/>
<path d="M34.90 478.40 L42.50 497.90 L34.90 492.00 L27.30 497.90 Z" fill="#000"/>
<path d="M34.90 632.60 L27.30 613.10 L34.90 619.00 L42.50 613.10 Z" fill="#000"/>
<line x1="35" y1="831.50" x2="35" y2="965.70" stroke="#000" stroke-width="1.7"/>
<path d="M34.90 821.50 L42.50 841.00 L34.90 835.10 L27.30 841.00 Z" fill="#000"/>
<path d="M34.90 975.70 L27.30 956.20 L34.90 962.10 L42.50 956.20 Z" fill="#000"/>
<line x1="217.00" y1="367.80" x2="665.80" y2="367.80" stroke="#000" stroke-width="1.7"/>
<path d="M207.00 367.80 L226.50 360.20 L220.60 367.80 L226.50 375.40 Z" fill="#000"/>
<path d="M675.80 367.80 L656.30 375.40 L662.20 367.80 L656.30 360.20 Z" fill="#000"/>
<line x1="217.00" y1="711.30" x2="665.00" y2="711.30" stroke="#000" stroke-width="1.7"/>
<path d="M207.00 711.30 L226.50 703.70 L220.60 711.30 L226.50 718.90 Z" fill="#000"/>
<path d="M675.00 711.30 L655.50 718.90 L661.40 711.30 L655.50 703.70 Z" fill="#000"/>
<line x1="217.80" y1="1055.70" x2="665.00" y2="1055.70" stroke="#000" stroke-width="1.7"/>
<path d="M207.80 1055.70 L227.30 1048.10 L221.40 1055.70 L227.30 1063.30 Z" fill="#000"/>
<path d="M675.00 1055.70 L655.50 1063.30 L661.40 1055.70 L655.50 1048.10 Z" fill="#000"/>
</svg>
</body></html>
